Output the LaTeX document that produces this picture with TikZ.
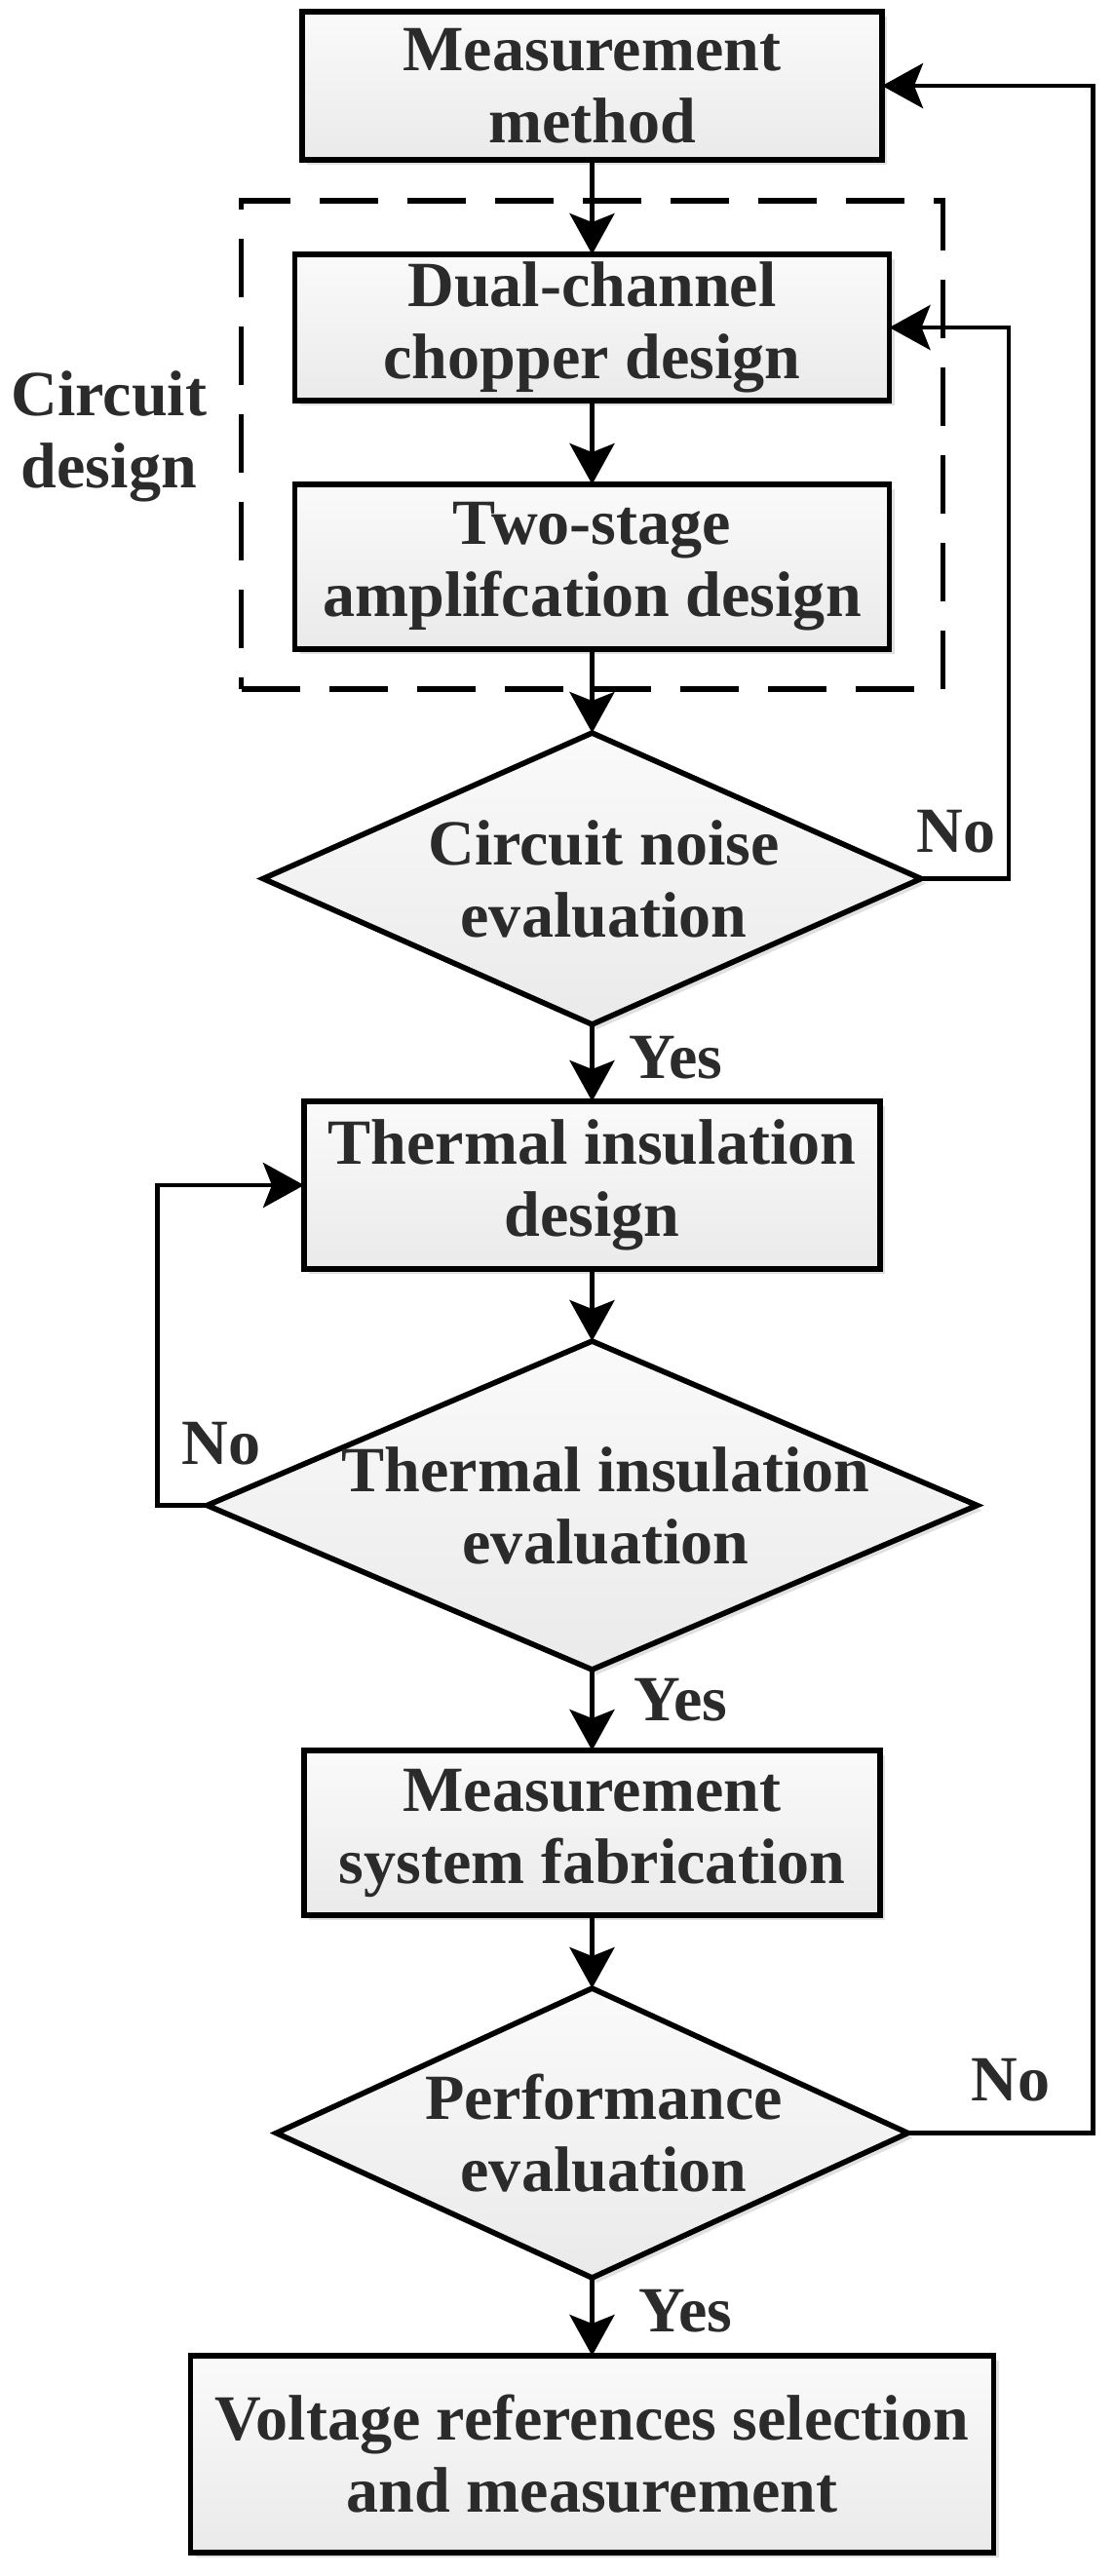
\documentclass[tikz,border=0pt]{standalone}
\usepackage{fontspec}
\setmainfont{Liberation Serif}
\usetikzlibrary{arrows.meta,positioning,shapes.geometric,fit,shadows}
\definecolor{ink}{HTML}{2B2B2B}
\definecolor{fillTop}{HTML}{FAFAFA}
\definecolor{fillBot}{HTML}{EAEAEA}
\newcommand{\flowfont}{\fontsize{18.8pt}{21.06pt}\selectfont\bfseries}

\begin{document}
\begin{tikzpicture}[
    stepbox/.style={draw,line width=1.6pt,top color=fillTop,bottom color=fillBot,
      align=center,font=\flowfont,text=ink,inner sep=0pt,outer sep=0pt,
      drop shadow={shadow xshift=0.5mm,shadow yshift=-0.5mm,fill=black!40,opacity=0.3}},
    decision/.style={diamond,draw,line width=1.6pt,top color=fillTop,bottom color=fillBot,
      inner sep=0pt,outer sep=0pt,
      drop shadow={shadow xshift=0.5mm,shadow yshift=-0.5mm,fill=black!40,opacity=0.3}},
    every label/.style={align=center,font=\flowfont,text=ink,inner sep=0pt},
    flow/.style={-{Stealth[length=4.2mm,width=4.6mm,inset=0.9mm]},line width=1.4pt},
    lbl/.style={font=\flowfont,text=ink,inner sep=0pt}]
      \useasboundingbox (0,0) rectangle (11.42,-26.43);

      % main column
      \node[stepbox,minimum width=5.95cm,minimum height=1.52cm] (meas) at (6.075,-0.88)
        {Measurement\\method};
      \node[stepbox,minimum width=6.10cm,minimum height=1.50cm,below=0.97cm of meas] (chopper)
        {Dual-channel\\chopper design};
      \node[stepbox,minimum width=6.10cm,minimum height=1.69cm,below=0.86cm of chopper] (amp)
        {Two-stage\\amplifcation design};
      \node[decision,minimum width=6.75cm,minimum height=2.99cm,below=0.86cm of amp,
        label={[xshift=1.2mm]center:Circuit noise\\evaluation}] (noise) {};
      \node[stepbox,minimum width=5.91cm,minimum height=1.72cm,below=0.79cm of noise] (thermal)
        {Thermal insulation\\design};
      \node[decision,minimum width=7.90cm,minimum height=3.37cm,below=0.74cm of thermal,
        label={[xshift=1.4mm]center:Thermal insulation\\evaluation}] (insul) {};
      \node[stepbox,minimum width=5.91cm,minimum height=1.69cm,below=0.83cm of insul] (fab)
        {Measurement\\system fabrication};
      \node[decision,minimum width=6.48cm,minimum height=2.97cm,below=0.75cm of fab,
        label={[xshift=1.2mm]center:Performance\\evaluation}] (perf) {};
      \node[stepbox,minimum width=8.24cm,minimum height=2.02cm,below=0.80cm of perf] (select)
        {Voltage references selection\\and measurement};

      % circuit design group
      \node[draw,line width=1.5pt,dash pattern=on 0.6cm off 0.3cm,fit=(chopper)(amp),
        inner xsep=0.55cm,inner ysep=0.48cm,yshift=0.7mm] (circuitgrp) {};
      \node[lbl,align=center,left=0.32cm of circuitgrp,yshift=0.9mm] (circlbl) {Circuit\\design};

      % decisions
      \node[lbl,anchor=base west] (no1) at (9.40,-8.74) {No};
      \node[lbl,anchor=base west] (yes1) at (6.45,-11.06) {Yes};
      \node[lbl,anchor=base west] (no2) at (1.86,-15.02) {No};
      \node[lbl,anchor=base west] (yes2) at (6.50,-17.65) {Yes};
      \node[lbl,anchor=base west] (no3) at (9.96,-21.55) {No};
      \node[lbl,anchor=base west] (yes3) at (6.55,-23.92) {Yes};

      \draw[flow] (meas) -- (chopper);
      \draw[flow] (chopper) -- (amp);
      \draw[flow] (amp) -- (noise);
      \draw[flow] (noise) -- (thermal);
      \draw[flow] (thermal) -- (insul);
      \draw[flow] (insul) -- (fab);
      \draw[flow] (fab) -- (perf);
      \draw[flow] (perf) -- (select);

      % loops back
      \draw[flow] (noise.east) -- ++(0.90,0) |- (chopper.east);
      \draw[flow] (insul.west) -- ++(-0.51,0) |- (thermal.west);
      \draw[flow] (perf.east) -- ++(1.90,0) |- (meas.east);
    \end{tikzpicture}
\end{document}
